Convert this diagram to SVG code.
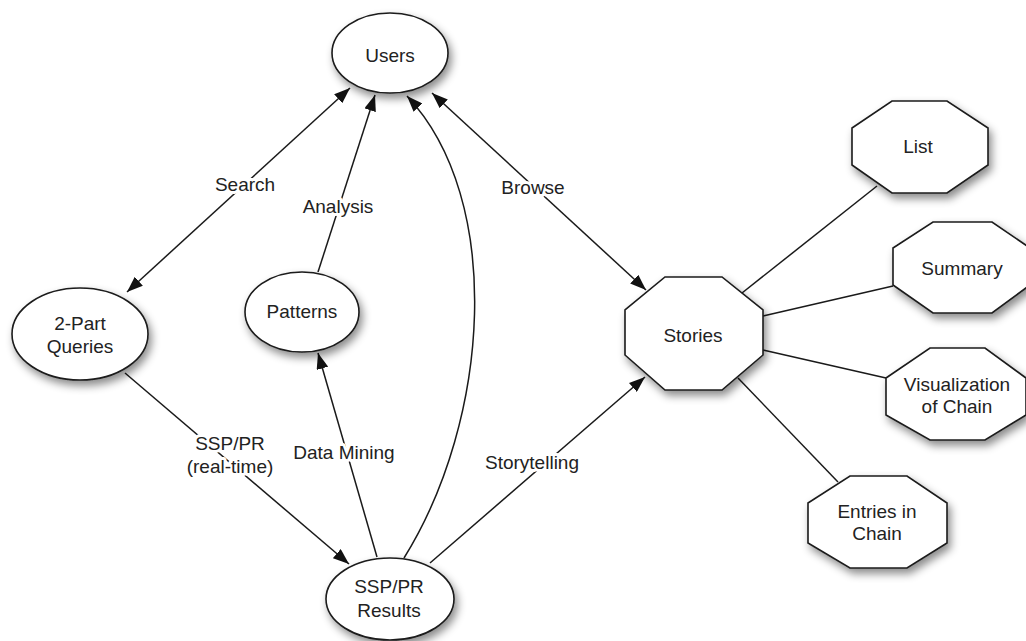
<svg xmlns="http://www.w3.org/2000/svg" width="1026" height="641" viewBox="0 0 1026 641">
  <defs>
    <filter id="shadow" x="-20%" y="-20%" width="150%" height="160%">
      <feDropShadow dx="3" dy="5" stdDeviation="4" flood-color="#000" flood-opacity="0.45"/>
    </filter>
    <marker id="arrow" viewBox="0 0 16 12" refX="16" refY="6" markerWidth="16" markerHeight="12" markerUnits="userSpaceOnUse" orient="auto-start-reverse">
      <path d="M0,0 L16,6 L0,12 Z" fill="#111"/>
    </marker>
  </defs>
  <style>
    .node { fill: #fff; stroke: #1a1a1a; stroke-width: 1.6; filter: url(#shadow); }
    .edge { fill: none; stroke: #1a1a1a; stroke-width: 1.5; }
    text { font-family: "Liberation Sans", Arial, sans-serif; font-size: 19px; fill: #222; text-anchor: middle; }
    .lbl { stroke: #fff; stroke-width: 6; paint-order: stroke; stroke-linejoin: round; }
  </style>
  <rect width="1026" height="641" fill="#fff"/>

  <!-- connectors -->
  <g id="connectors">
    <line class="edge" x1="350" y1="88" x2="127" y2="292" marker-start="url(#arrow)" marker-end="url(#arrow)"/>
    <line class="edge" x1="318" y1="272" x2="375" y2="95" marker-end="url(#arrow)"/>
    <path class="edge" d="M404,558 C490,420 505,200 407,96" marker-end="url(#arrow)"/>
    <line class="edge" x1="377" y1="557" x2="318" y2="353" marker-end="url(#arrow)"/>
    <line class="edge" x1="432" y1="93" x2="646" y2="290" marker-start="url(#arrow)" marker-end="url(#arrow)"/>
    <line class="edge" x1="125" y1="373" x2="349" y2="564" marker-end="url(#arrow)"/>
    <line class="edge" x1="430" y1="563" x2="645" y2="377" marker-end="url(#arrow)"/>
    <line class="edge" x1="742" y1="293" x2="877" y2="186"/>
    <line class="edge" x1="763" y1="316" x2="893" y2="286"/>
    <line class="edge" x1="763" y1="350" x2="886" y2="378"/>
    <line class="edge" x1="738" y1="378" x2="838" y2="482"/>
    <!-- edge labels -->
    <text class="lbl" x="245" y="191">Search</text>
    <text class="lbl" x="338" y="213">Analysis</text>
    <text class="lbl" x="533" y="194">Browse</text>
    <text class="lbl" x="230" y="450">SSP/PR</text>
    <text class="lbl" x="230" y="473">(real-time)</text>
    <text class="lbl" x="344" y="459">Data Mining</text>
    <text class="lbl" x="532" y="469">Storytelling</text>
  </g>

  <g id="users">
    <ellipse class="node" cx="390" cy="53" rx="58" ry="40"/>
    <text x="390" y="62">Users</text>
  </g>
  <g id="queries">
    <ellipse class="node" cx="80" cy="334" rx="68" ry="46"/>
    <text x="80" y="330">2-Part</text>
    <text x="80" y="353">Queries</text>
  </g>
  <g id="patterns">
    <ellipse class="node" cx="302" cy="312" rx="57" ry="40"/>
    <text x="302" y="318">Patterns</text>
  </g>
  <g id="results">
    <ellipse class="node" cx="390" cy="599" rx="64" ry="41"/>
    <text x="389" y="593">SSP/PR</text>
    <text x="389" y="617">Results</text>
  </g>
  <g id="stories">
    <polygon class="node" points="665,277 722,277 763,310 763,355 722,390 665,390 625,355 625,310"/>
    <text x="693" y="342">Stories</text>
  </g>
  <g id="list">
    <polygon class="node" points="892,101 947,101 988,128 988,165 947,193 892,193 852,165 852,128"/>
    <text x="918" y="153">List</text>
  </g>
  <g id="summary">
    <polygon class="node" points="933,222 992,222 1030,248 1030,285 992,313 933,313 893,285 893,248"/>
    <text x="962" y="275">Summary</text>
  </g>
  <g id="visualization">
    <polygon class="node" points="930,348 985,348 1026,378 1026,415 985,440 930,440 886,415 886,378"/>
    <text x="957" y="391">Visualization</text>
    <text x="957" y="413">of Chain</text>
  </g>
  <g id="entries">
    <polygon class="node" points="850,476 907,476 947,503 947,543 907,568 850,568 808,543 808,503"/>
    <text x="877" y="518">Entries in</text>
    <text x="877" y="540">Chain</text>
  </g>
</svg>
